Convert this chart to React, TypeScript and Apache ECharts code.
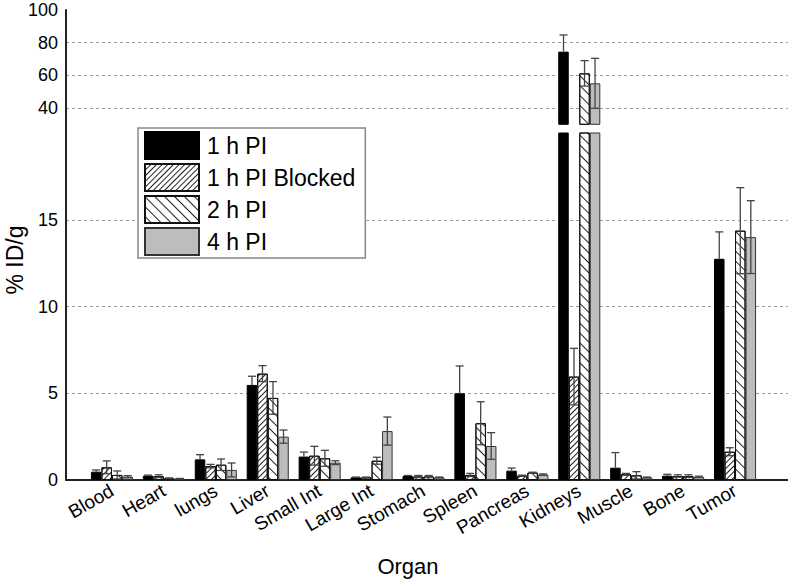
import React, { useEffect, useRef } from 'react';
import * as echarts from 'echarts';

// organs on the x axis
const organs = ['Blood', 'Heart', 'lungs', 'Liver', 'Small Int', 'Large Int', 'Stomach', 'Spleen', 'Pancreas', 'Kidneys', 'Muscle', 'Bone', 'Tumor'];

// %ID/g means and SDs
const pi1h = [0.48, 0.25, 1.19, 5.48, 1.35, 0.15, 0.23, 5.0, 0.54, 74.5, 0.71, 0.25, 12.75];
const pi1hErr = [0.1, 0.03, 0.27, 0.5, 0.26, 0.02, 0.03, 1.57, 0.15, 10.2, 0.87, 0.08, 1.55];
const blocked = [0.73, 0.22, 0.8, 6.13, 1.4, 0.15, 0.2, 0.29, 0.25, 5.96, 0.33, 0.23, 1.63];
const blockedErr = [0.37, 0.08, 0.1, 0.46, 0.54, 0.02, 0.06, 0.09, 0.03, 1.63, 0.05, 0.07, 0.23];
const pi2h = [0.29, 0.1, 0.88, 4.73, 1.25, 1.11, 0.2, 3.27, 0.42, 61.2, 0.27, 0.22, 14.37];
const pi2hErr = [0.23, 0.02, 0.33, 0.94, 0.46, 0.2, 0.06, 1.24, 0.03, 7.8, 0.21, 0.08, 2.48];
const pi4h = [0.19, 0.08, 0.58, 2.5, 1.0, 2.82, 0.15, 1.96, 0.31, 55.1, 0.15, 0.18, 14.0];
const pi4hErr = [0.06, 0.01, 0.4, 0.38, 0.11, 0.81, 0.02, 0.77, 0.04, 15.3, 0.02, 0.04, 2.1];

// broken y axis: lower panel 0-20, upper panel 30-100
const lowTicks = [0, 5, 10, 15];
const highTicks = [40, 60, 80, 100];
const LOW_MAX = 20;
const HIGH_MIN = 30;

const CAT_GAP = 0.19;
const FONT = "'Liberation Sans', Arial, sans-serif";

export default function App() {
  const chartRef = useRef<HTMLDivElement>(null);

  useEffect(() => {
    if (!chartRef.current) return;
    const chart = echarts.init(chartRef.current, null, { renderer: 'svg' });

    const groups = [
      { name: '1 h PI', values: pi1h, errs: pi1hErr, itemStyle: { color: '#000', borderColor: '#000', borderWidth: 1 } },
      {
        name: '1 h PI Blocked', values: blocked, errs: blockedErr,
        itemStyle: {
          color: '#fff', borderColor: '#111', borderWidth: 1,
          decal: { symbol: 'rect', symbolSize: 1, color: '#222', backgroundColor: '#fff', dashArrayX: [1, 0], dashArrayY: [1, 3], rotation: -Math.PI / 4 }
        }
      },
      {
        name: '2 h PI', values: pi2h, errs: pi2hErr,
        itemStyle: {
          color: '#fff', borderColor: '#111', borderWidth: 1,
          decal: { symbol: 'rect', symbolSize: 1, color: '#222', backgroundColor: '#fff', dashArrayX: [1, 0], dashArrayY: [1, 5.5], rotation: Math.PI / 4 }
        }
      },
      { name: '4 h PI', values: pi4h, errs: pi4hErr, itemStyle: { color: '#bdbdbd', borderColor: '#333', borderWidth: 1 } }
    ];

    const renderErr = (params: any, api: any) => {
      const ci = api.value(0);
      const v = api.value(1);
      const e = api.value(2);
      const k = api.value(3);
      const band = api.size([1, 0])[0];
      const groupW = band * (1 - CAT_GAP);
      const bw = groupW / 4;
      const hi = api.coord([ci, v + e]);
      // inside the black bars the lower whisker is not visible
      const lo = api.coord([ci, k === 0 ? v : Math.max(v - e, 0)]);
      const x = hi[0] - groupW / 2 + bw * (k + 0.5);
      const cap = 4;
      const style = { stroke: '#444', lineWidth: 1.3 };
      const children: any[] = [
        { type: 'line', shape: { x1: x, y1: lo[1], x2: x, y2: hi[1] }, style },
        { type: 'line', shape: { x1: x - cap, y1: hi[1], x2: x + cap, y2: hi[1] }, style }
      ];
      if (k !== 0 && v - e > 0) {
        children.push({ type: 'line', shape: { x1: x - cap, y1: lo[1], x2: x + cap, y2: lo[1] }, style });
      }
      return { type: 'group', children };
    };

    const lowErrData: number[][] = [];
    const highErrData: number[][] = [];
    groups.forEach((g, k) => {
      g.values.forEach((v, i) => {
        if (v > LOW_MAX) highErrData.push([i, v, g.errs[i], k]);
        else lowErrData.push([i, v, g.errs[i], k]);
      });
    });

    const series: any[] = [];
    groups.forEach((g) => {
      series.push({
        name: g.name, type: 'bar', xAxisIndex: 3, yAxisIndex: 3,
        data: g.values, barGap: '0%', barCategoryGap: CAT_GAP * 100 + '%',
        itemStyle: g.itemStyle, clip: true
      });
    });
    groups.forEach((g) => {
      series.push({
        name: g.name, type: 'bar', xAxisIndex: 2, yAxisIndex: 2,
        data: g.values.map((v) => (v > HIGH_MIN ? v : '-')), barGap: '0%', barCategoryGap: CAT_GAP * 100 + '%',
        itemStyle: g.itemStyle, clip: true
      });
    });
    series.push({
      name: 'errLow', type: 'custom', xAxisIndex: 3, yAxisIndex: 3,
      data: lowErrData, encode: { x: 0, y: 1 }, renderItem: renderErr, z: 5
    });
    series.push({
      name: 'errHigh', type: 'custom', xAxisIndex: 2, yAxisIndex: 2,
      data: highErrData, encode: { x: 0, y: 1 }, renderItem: renderErr, z: 5
    });

    const dashed = { show: true, lineStyle: { color: '#9a9a9a', type: [3, 3], width: 1 } };
    const axisLine = { show: true, onZero: false, lineStyle: { color: '#222', width: 2 } };
    const yLabel = { color: '#000', fontSize: 18, fontFamily: FONT, margin: 8 };

    const option = {
      animation: false,
      backgroundColor: '#fff',
      textStyle: { fontFamily: FONT },
      grid: [
        { left: 66, right: 0, top: 10, height: 130.7 },
        { left: 66, right: 0, top: 133, height: 347 },
        { left: 86, width: 675, top: 10, height: 114.3 },
        { left: 86, width: 675, top: 133, height: 347 }
      ],
      xAxis: [
        { type: 'value', gridIndex: 0, min: 0, max: 1, show: false },
        {
          type: 'value', gridIndex: 1, min: 0, max: 1, axisLine, axisTick: { show: false },
          axisLabel: { show: false }, splitLine: { show: false }
        },
        { type: 'category', gridIndex: 2, data: organs, show: false },
        {
          type: 'category', gridIndex: 3, data: organs,
          axisLine: { show: false }, axisTick: { show: false },
          axisLabel: { interval: 0, rotate: 30, fontSize: 19, color: '#000', fontFamily: FONT, margin: 9 }
        }
      ],
      yAxis: [
        {
          type: 'value', gridIndex: 0, min: LOW_MAX, max: 100, interval: 20, axisLine, axisTick: { show: false },
          axisLabel: { ...yLabel, formatter: (v: number) => (highTicks.includes(v) ? String(v) : '') },
          splitLine: { ...dashed, showMinLine: false, showMaxLine: false }
        },
        {
          type: 'value', gridIndex: 1, min: 0, max: LOW_MAX, interval: 5, axisLine, axisTick: { show: false },
          axisLabel: { ...yLabel, formatter: (v: number) => (lowTicks.includes(v) ? String(v) : '') },
          splitLine: { ...dashed, showMinLine: false, showMaxLine: false }
        },
        { type: 'value', gridIndex: 2, min: HIGH_MIN, max: 100, show: false, splitLine: { show: false } },
        { type: 'value', gridIndex: 3, min: 0, max: LOW_MAX, show: false, splitLine: { show: false } }
      ],
      legend: {
        data: groups.map((g) => g.name),
        orient: 'vertical',
        left: 138,
        top: 128,
        itemWidth: 54,
        itemHeight: 27,
        itemGap: 3,
        padding: [3, 10, 2, 6],
        borderColor: '#888',
        borderWidth: 1.5,
        backgroundColor: '#fff',
        icon: 'rect',
        selectedMode: false,
        textStyle: { fontSize: 23, color: '#000', fontFamily: FONT, padding: [0, 0, 0, 3] }
      },
      graphic: [
        {
          type: 'text', x: 15, y: 260, rotation: Math.PI / 2,
          style: { text: '% ID/g', fontSize: 23, fill: '#000', font: `23px ${FONT}`, textAlign: 'center', textVerticalAlign: 'middle' }
        },
        {
          type: 'text', x: 408, y: 566,
          style: { text: 'Organ', fontSize: 22, fill: '#000', font: `22px ${FONT}`, textAlign: 'center', textVerticalAlign: 'middle' }
        }
      ],
      series
    };

    chart.setOption(option);
    return () => {
      chart.dispose();
    };
  }, []);

  return (
    <div
      ref={chartRef}
      style={{ position: 'fixed', left: 0, top: 0, width: 788, height: 579, background: '#fff' }}
    />
  );
}
